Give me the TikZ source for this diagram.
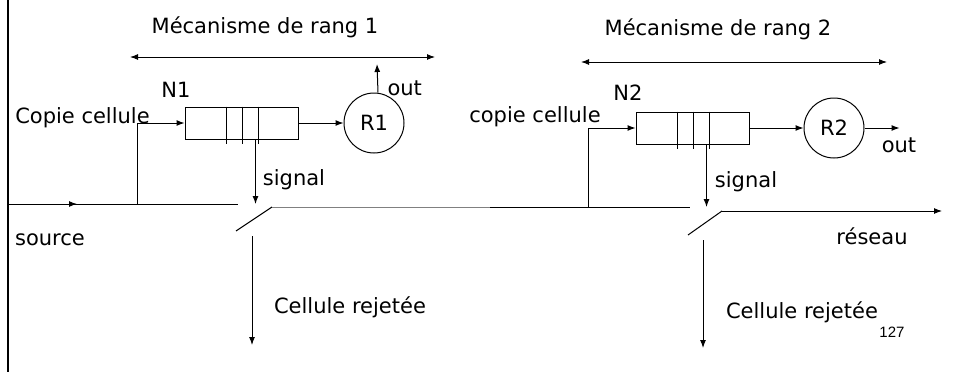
\documentclass[tikz,border=0pt]{standalone}
\usepackage{fontspec}
\setmainfont{DejaVu Sans}
\newfontfamily\pagefont{Liberation Sans}
\usetikzlibrary{arrows.meta,positioning,calc}
\tikzset{
  texte/.style={
    font=\fontsize{21}{24}\selectfont,
    inner sep=0pt,
    anchor=base
  },
  file/.style={
    draw,
    rectangle,
    minimum width=113pt,
    minimum height=32pt,
    inner sep=0pt
  },
  serveur/.style={
    circle,
    draw,
    minimum size=60pt,
    inner sep=0pt,
    font=\fontsize{21}{24}\selectfont
  },
  flow/.style={-{Latex[length=8pt,width=6pt]}},
  portee/.style={{Latex[length=8pt,width=6pt]}-{Latex[length=8pt,width=6pt]}}
}

\begin{document}
\begin{tikzpicture}[x=1pt,y=-1pt,line width=1pt]
\useasboundingbox (0,0) rectangle (953,372);

% bord gauche
\draw[line width=2.5pt] (8,0) -- (8,372);

% mecanisme de rang 1
\node[texte] (titre1) at (265,33) {Mécanisme de rang 1};
\coordinate (p1a) at (130,57);
\coordinate (p1b) at (435,57);
\draw[portee] (p1a) -- (p1b);

\node[file] (file1) at (241.5,123) {};
\foreach \dx in {42,58,74}
  \draw ([xshift=\dx pt]file1.north west) -- ([xshift=\dx pt,yshift=-4pt]file1.south west);
\node[serveur, right=45pt of file1] (r1) {R1};
\node[texte] (n1) at (176,97) {N1};

\draw[flow] (file1.east) -- (r1.west);
\coordinate (out1) at (377,64);
\draw[flow] ([xshift=4pt]r1.north) -- (out1);
\node[texte, anchor=base west] (outlbl1) at (387,95) {out};

% mecanisme de rang 2
\node[texte] (titre2) at (718,35) {Mécanisme de rang 2};
\coordinate (p2a) at (581,62);
\coordinate (p2b) at (887,62);
\draw[portee] (p2a) -- (p2b);

\node[file] (file2) at (692.5,128) {};
\foreach \dx in {42,58,74}
  \draw ([xshift=\dx pt]file2.north west) -- ([xshift=\dx pt,yshift=-4pt]file2.south west);
\node[serveur, right=54pt of file2] (r2) {R2};
\node[texte] (n2) at (628,100) {N2};

\draw[flow] (file2.east) -- (r2.west);
\draw[flow] (r2.east) -- ++(35,0);
\node[texte] (outlbl2) at (899,152) {out};

% ligne source - premier commutateur
\coordinate (src) at (9,204);
\coordinate (sw1in) at (238,204);
\draw[flow] (src) -- ++(68,0);
\draw (src) -- (sw1in);
\node[texte] (source) at (50,245) {source};

% copie vers N1
\coordinate (b1) at (137,204);
\draw[flow] (b1) |- (file1.west);
\node[texte] (copie1) at (82.5,123) {Copie cellule};

% signal 1 et commutateur 1
\coordinate (sig1) at ([xshift=14pt]file1.south);
\draw[flow] (sig1) -- (sig1 |- sw1in);
\node[texte] (signal1) at (294,185) {signal};
\coordinate (sw1lo) at (236,231);
\coordinate (sw1hi) at (272,207);
\draw (sw1lo) -- (sw1hi);

% rejet 1
\coordinate (rej1) at (252,236);
\draw[flow] (rej1) -- ++(0,109);
\node[texte] (rejet1) at (350,313) {Cellule rejetée};

% ligne entre les deux mecanismes
\coordinate (g1) at (490,207);
\coordinate (sw2in) at (690,207);
\draw[gray] (sw1hi) -- (g1);
\draw (g1) -- (sw2in);

% copie vers N2
\coordinate (b2) at (588,207);
\draw[flow] (b2) |- (file2.west);
\node[texte] (copie2) at (535,122) {copie cellule};

% signal 2 et commutateur 2
\coordinate (sig2) at ([xshift=14pt]file2.south);
\draw[flow] (sig2) -- (sig2 |- sw2in);
\node[texte] (signal2) at (746,187) {signal};
\coordinate (sw2lo) at (688,235);
\coordinate (sw2hi) at (722,211);
\draw (sw2lo) -- (sw2hi);

% sortie reseau
\coordinate (res) at (942,211);
\draw[flow] (sw2hi) -- (res);
\node[texte] (reseau) at (872,244) {réseau};

% rejet 2
\coordinate (rej2) at (703,240);
\draw[flow] (rej2) -- ++(0,108);
\node[texte] (rejet2) at (802,318) {Cellule rejetée};

\node[inner sep=0pt, anchor=base, font=\pagefont\fontsize{15}{18}\selectfont] (page) at (892,337) {127};

\end{tikzpicture}
\end{document}
